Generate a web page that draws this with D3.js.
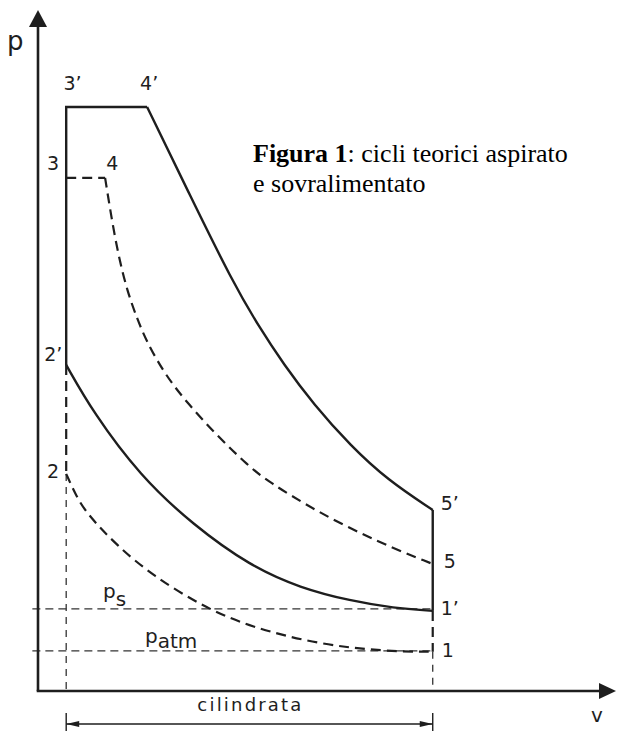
<!DOCTYPE html>
<html>
<head>
<meta charset="utf-8">
<script src="https://cdn.jsdelivr.net/npm/d3@7/dist/d3.min.js"></script>
<style>
body { margin: 0; background: #fff; }
</style>
</head>
<body>
<script>

/* data: volume V (clearance = 1) and pressure p (p_atm = 1) */
var vMax = 20.5;           // end of V axis arrow
var pMax = 17;             // end of p axis arrow
var vClear = 1.0;          // V at top dead centre
var vTotal = 14.0;         // V at bottom dead centre

/* supercharged cycle (solid) */
var p3s = 14.58, v4s = 3.87, p2s = 8.14, p5s = 4.52, p1s = 2.0;
var expansionSolid = [[3.87, 14.58], [5.40, 12.36], [6.89, 10.23], [7.82, 9.11], [8.71, 8.16],
    [9.77, 7.16], [11.09, 6.12], [12.40, 5.27], [14.0, 4.52]];
var compressionSolid = [[1.0, 8.14], [1.95, 6.96], [3.62, 5.37], [5.51, 4.14], [7.53, 3.12],
    [9.31, 2.57], [11.09, 2.25], [12.61, 2.07], [14.0, 2.0]];

/* naturally aspirated cycle (dashed) */
var p3 = 12.81, v4 = 2.38, p2 = 5.42, p5 = 3.17, p1 = 0.98;
var expansionDashed = [[2.38, 12.81], [2.59, 11.88], [2.84, 10.91], [3.16, 9.99], [3.52, 9.29],
    [3.84, 8.74], [4.51, 7.89], [5.33, 7.16], [6.36, 6.37], [7.46, 5.62], [8.14, 5.24],
    [9.91, 4.47], [12.05, 3.72], [14.0, 3.17]];
var compressionDashed = [[1.0, 5.42], [1.35, 4.87], [1.74, 4.42], [2.81, 3.62], [4.09, 2.87],
    [5.86, 2.10], [7.53, 1.60], [9.91, 1.17], [12.26, 0.99], [14.0, 0.98]];

/* reference pressures */
var pS = 2.05, pAtm = 1.0;

/* point labels: [text, V, p] */
var pointLabels = [["3’", 0.9, 15.0], ["4’", 3.62, 15.0], ["3", 0.32, 13.0], ["4", 2.42, 13.0],
    ["2’", 0.22, 8.25], ["2", 0.32, 5.32], ["5’", 14.28, 4.52], ["5", 14.39, 3.07],
    ["1’", 14.28, 1.9], ["1", 14.32, 0.85]];

var svg = d3.select("body")
    .append("svg")
    .attr("width", 618)
    .attr("height", 731);

var x = d3.scaleLinear().domain([0, vMax]).range([38, 616]);
var y = d3.scaleLinear().domain([0, pMax]).range([691, 10]);

var ink = "#1e1e1e";
var curve = d3.line().x(function (d) { return x(d[0]); }).y(function (d) { return y(d[1]); })
    .curve(d3.curveBasis);
var straight = d3.line().x(function (d) { return x(d[0]); }).y(function (d) { return y(d[1]); });

/* thin construction lines */
function thin(pts, dash) {
    svg.append("path").attr("d", straight(pts))
        .attr("fill", "none").attr("stroke", "#333").attr("stroke-width", 1.3)
        .attr("stroke-dasharray", dash || "8,5");
}
thin([[-0.2, pS], [vTotal, pS]]);
thin([[-0.2, pAtm], [vTotal, pAtm]]);
thin([[vClear, p2], [vClear, 0]], "7,6");
thin([[vTotal, p1], [vTotal, 0]], "7,6");

/* solid cycle */
function solid(d) {
    svg.append("path").attr("d", d)
        .attr("fill", "none").attr("stroke", ink).attr("stroke-width", 2.4)
        .attr("stroke-linejoin", "miter");
}
solid(straight([[vClear, p2s], [vClear, p3s], [v4s, p3s]]));
solid(curve(expansionSolid));
solid(straight([[vTotal, p5s], [vTotal, p1s]]));
solid(curve(compressionSolid));

/* dashed cycle */
function dashed(d) {
    svg.append("path").attr("d", d)
        .attr("fill", "none").attr("stroke", ink).attr("stroke-width", 2.2)
        .attr("stroke-dasharray", "10,6");
}
dashed(straight([[vClear, p2s], [vClear, p2]]));
dashed(straight([[vClear, p3], [v4, p3]]));
dashed(curve(expansionDashed));
dashed(straight([[vTotal, p1s], [vTotal, p1]]));
dashed(curve(compressionDashed));

/* axes with arrows */
svg.append("line").attr("x1", x(0)).attr("y1", y(0)).attr("x2", x(0)).attr("y2", y(pMax) + 12)
    .attr("stroke", ink).attr("stroke-width", 2.6);
svg.append("line").attr("x1", x(0) - 1.3).attr("y1", y(0)).attr("x2", x(vMax) - 12).attr("y2", y(0))
    .attr("stroke", ink).attr("stroke-width", 2.6);
svg.append("path")
    .attr("d", "M" + x(0) + "," + y(pMax) + "l-9,17h18z")
    .attr("fill", ink);
svg.append("path")
    .attr("d", "M" + x(vMax) + "," + y(0) + "l-17,-8v16z")
    .attr("fill", ink);

/* cylinder displacement dimension */
var dimY = 724;
[vClear, vTotal].forEach(function (v) {
    svg.append("line").attr("x1", x(v)).attr("x2", x(v)).attr("y1", 713).attr("y2", 731)
        .attr("stroke", ink).attr("stroke-width", 1.4);
});
svg.append("line").attr("x1", x(vClear)).attr("x2", x(vTotal)).attr("y1", dimY).attr("y2", dimY)
    .attr("stroke", ink).attr("stroke-width", 1.3);
svg.append("path").attr("d", "M" + x(vClear) + "," + dimY + "l13,-3v6z").attr("fill", ink);
svg.append("path").attr("d", "M" + x(vTotal) + "," + dimY + "l-13,-3v6z").attr("fill", ink);

var labelFont = "'DejaVu Sans', sans-serif";
svg.append("text").attr("x", (x(vClear) + x(vTotal)) / 2 + 1).attr("y", 711)
    .attr("text-anchor", "middle").attr("font-family", labelFont).attr("font-size", 18)
    .attr("letter-spacing", "2.2px").attr("fill", ink).text("cilindrata");

/* axis labels */
svg.append("text").attr("x", 7).attr("y", 50).attr("font-family", labelFont)
    .attr("font-size", 26).attr("fill", ink).text("p");
svg.append("text").attr("x", 591).attr("y", 722).attr("font-family", labelFont)
    .attr("font-size", 20).attr("fill", ink).text("v");

/* point labels */
pointLabels.forEach(function (d) {
    svg.append("text").attr("x", x(d[1])).attr("y", y(d[2]))
        .attr("font-family", labelFont).attr("font-size", 19).attr("fill", ink).text(d[0]);
});

/* p_s and p_atm */
var ps = svg.append("text").attr("x", 103).attr("y", y(pS) - 11)
    .attr("font-family", labelFont).attr("font-size", 20).attr("fill", ink);
ps.append("tspan").text("p");
ps.append("tspan").attr("dy", 8).text("s");
var pa = svg.append("text").attr("x", 145).attr("y", y(pAtm) - 8)
    .attr("font-family", labelFont).attr("font-size", 20).attr("fill", ink);
pa.append("tspan").text("p");
pa.append("tspan").attr("dy", 5).text("atm");

/* caption */
var cap = svg.append("text").attr("x", 253).attr("y", 162)
    .attr("font-family", "'Liberation Serif', 'Times New Roman', serif").attr("font-size", 26).attr("fill", "#000");
cap.append("tspan").attr("font-weight", "bold").text("Figura 1");
cap.append("tspan").text(": cicli teorici aspirato");
svg.append("text").attr("x", 253).attr("y", 192)
    .attr("font-family", "'Liberation Serif', 'Times New Roman', serif").attr("font-size", 26).attr("fill", "#000")
    .text("e sovralimentato");

</script>
</body>
</html>
